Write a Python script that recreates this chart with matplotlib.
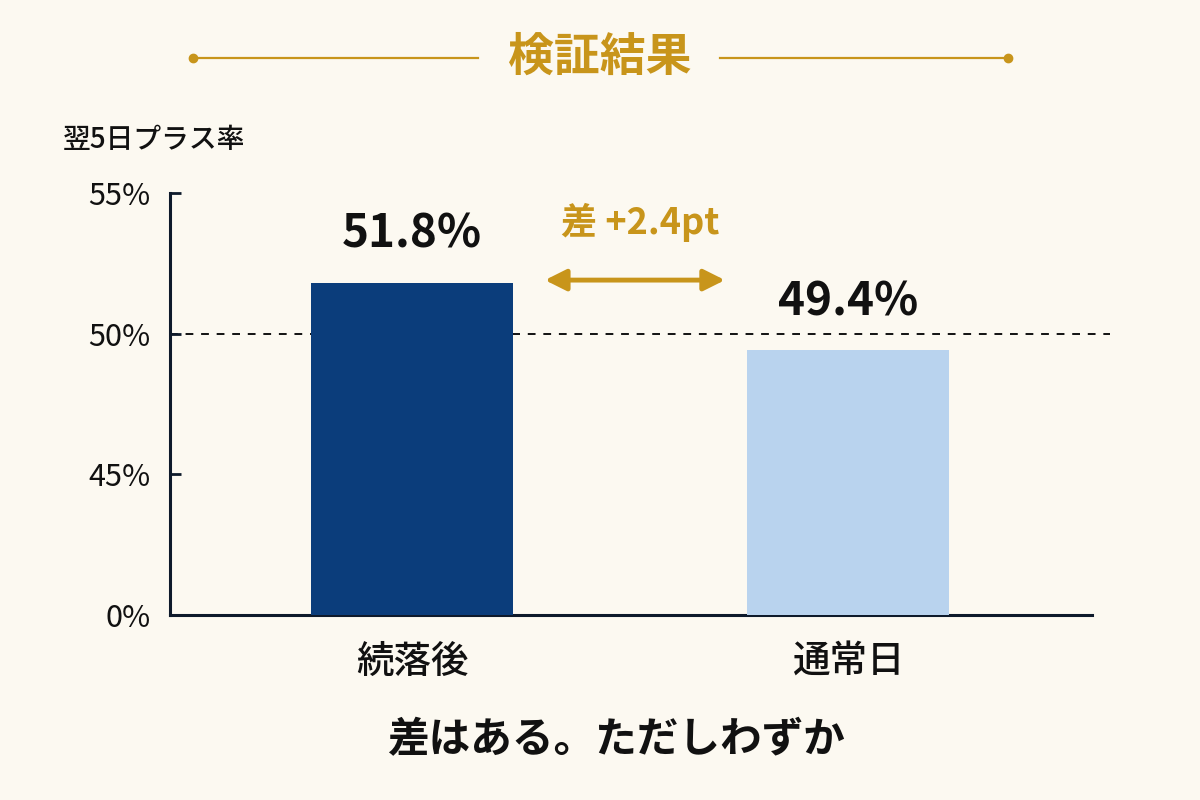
import matplotlib
matplotlib.use("Agg")
import matplotlib.pyplot as plt
from matplotlib.lines import Line2D

plt.rcParams["font.family"] = ["Noto Sans CJK JP", "DejaVu Sans"]

categories = ["続落後", "通常日"]
values = [51.8, 49.4]
bar_colors = ["#0B3D7B", "#B9D3EE"]
ytick_values = [40, 45, 50, 55]
ytick_labels = ["0%", "45%", "50%", "55%"]
diff_label = "差 +2.4pt"
title = "検証結果"
ylabel = "翌5日プラス率"
caption = "差はある。ただしわずか"

bg = "#FCF9F1"
gold = "#C8951B"
ink = "#111111"
axis_col = "#0E1A2B"

fig = plt.figure(figsize=(12, 8), dpi=100, facecolor=bg)
ax = fig.add_axes([0.1417, 0.231, 0.7683, 0.528])
ax.set_facecolor(bg)

x = list(range(len(categories)))
ax.bar(x, [v - ytick_values[0] for v in values], bottom=ytick_values[0],
       width=0.463, color=bar_colors, zorder=3)
ax.set_xlim(-0.555, 1.56)
ax.set_ylim(ytick_values[0], ytick_values[-1])

ax.axhline(50, xmin=0, xmax=1.02, color=ink, linestyle=(0, (4, 4)),
           linewidth=1.4, zorder=1, clip_on=False)

for xi, v in zip(x, values):
    ax.text(xi, v + 0.9, f"{v:.1f}%", ha="center", va="bottom",
            fontsize=33, fontweight="bold", color=ink, zorder=4)

# difference arrow between bars
ax.annotate("", xy=(0.718, 51.9), xytext=(0.305, 51.9),
            arrowprops=dict(arrowstyle="<|-|>", color=gold, lw=3.5,
                            mutation_scale=32, shrinkA=0, shrinkB=0))
ax.text(0.523, 53.95, diff_label, ha="center", va="center", fontsize=26,
        fontweight="bold", color=gold)

ax.set_yticks(ytick_values)
ax.set_yticklabels(ytick_labels, fontsize=22, color=ink)
ax.set_xticks(x)
ax.set_xticklabels(categories, fontsize=27, fontweight="medium", color=ink)
ax.tick_params(axis="y", direction="in", length=8, width=2, color=axis_col, pad=14)
ax.tick_params(axis="x", length=0, pad=20)

for s in ["top", "right"]:
    ax.spines[s].set_visible(False)
for s in ["left", "bottom"]:
    ax.spines[s].set_color(axis_col)
    ax.spines[s].set_linewidth(2.2)

# header
fig.text(0.5, 0.928, title, ha="center", va="center", fontsize=33,
         fontweight="bold", color=gold)
for x0, x1 in [(193, 478), (720, 1008)]:
    fig.add_artist(Line2D([x0 / 1200, x1 / 1200], [0.928, 0.928],
                          color=gold, linewidth=1.6))
for xd in [193, 1008]:
    fig.add_artist(Line2D([xd / 1200], [0.928], marker="o", markersize=6,
                          color=gold, linestyle="none"))

fig.text(0.052, 0.826, ylabel, ha="left", va="center", fontsize=20,
         fontweight="medium", color=ink)
fig.text(0.513, 0.075, caption, ha="center", va="center", fontsize=30,
         fontweight="bold", color=ink)

fig.savefig("out.png", dpi=100, facecolor=bg)
